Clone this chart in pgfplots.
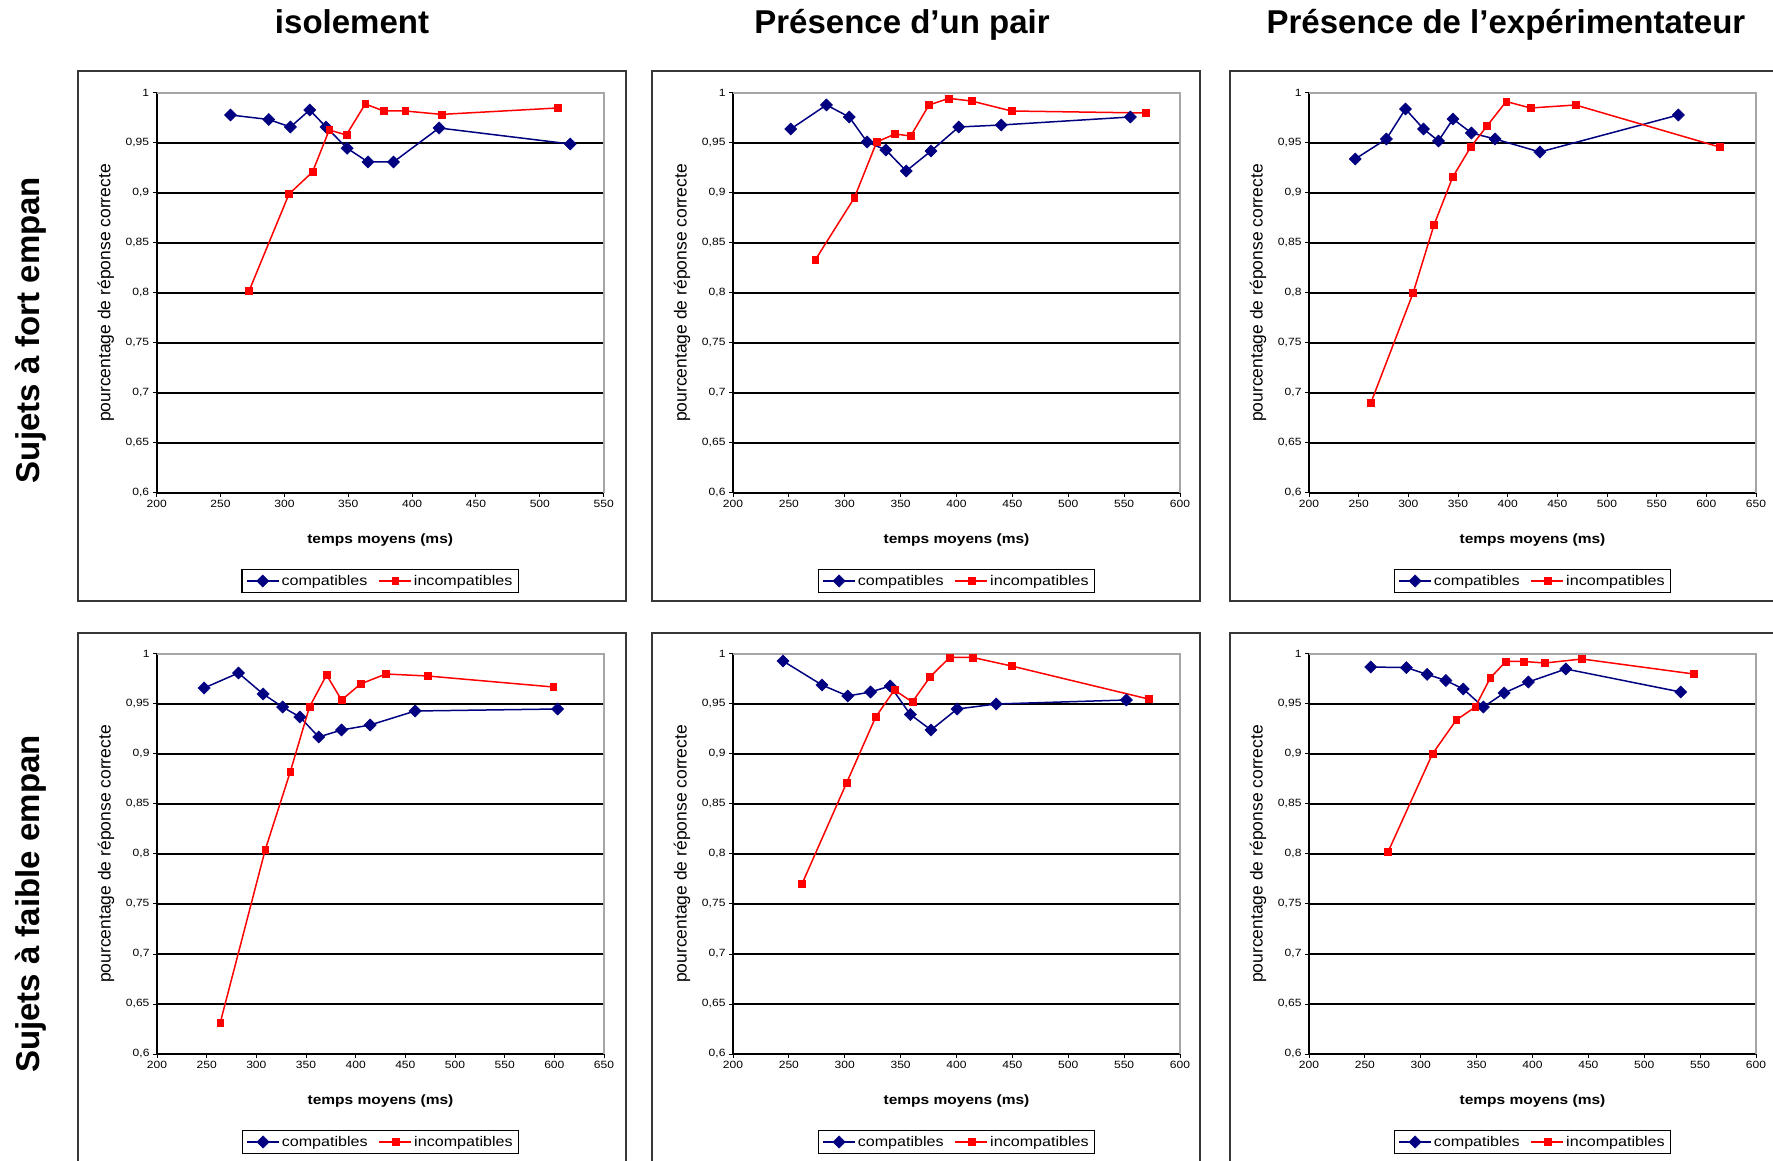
\documentclass[border=0pt]{standalone}
\usepackage{pgfplots}
\pgfplotsset{compat=1.18}
\usepackage{fontspec}
\setmainfont{Liberation Sans}
\newfontfamily\wide[FakeStretch=1.15]{Liberation Sans}
\definecolor{navy}{RGB}{0,0,128}
\definecolor{xred}{RGB}{255,0,0}
\definecolor{framegray}{RGB}{55,55,55}
\tikzset{plotborder/.style={gray!70, line width=2.2pt}}
\pgfplotsset{
  panel/.style={
    scale only axis, width=447pt, height=400pt,
    anchor=south west, clip=false,
    xmin=200, ymin=0.6, ymax=1,
    ytick={0.6,0.65,0.7,0.75,0.8,0.85,0.9,0.95,1},
    axis x line*=bottom, axis y line*=left,
    axis line style={black, line width=1.6pt},
    tick align=outside, major tick length=4pt,
    tick style={black, line width=1pt},
    ymajorgrids, major grid style={black, line width=2pt},
    /pgf/number format/use comma,
    /pgf/number format/fixed,
    /pgf/number format/precision=2,
    /pgf/number format/assume math mode=true,
    tick label style={font=\wide\fontsize{10.5}{12}\selectfont},
    xlabel={temps moyens (ms)},
    ylabel={pourcentage de réponse correcte},
    xlabel style={font=\wide\bfseries\fontsize{13.5}{15}\selectfont, at={(axis description cs:0.5,-0.1175)}, anchor=center},
    ylabel style={font=\fontsize{17.5}{19}\selectfont, at={(axis description cs:-0.114,0.5)}, anchor=center},
    legend columns=2,
    legend style={at={(axis description cs:0.5,-0.22)}, anchor=center, draw=black, line width=1.5pt,
      font=\wide\fontsize{14}{16}\selectfont, inner xsep=4pt, inner ysep=3.5pt,
      /tikz/every even column/.append style={column sep=9pt}},
    legend image code/.code={\draw[mark repeat=2,mark phase=2,##1] plot coordinates {(0pt,0pt) (16pt,0pt) (32pt,0pt)};},
  },
  cmpstyle/.style={color=navy, line width=1.5pt, mark=square*, mark size=4.3pt, mark options={solid, rotate=45, fill=navy, draw=navy, line width=0.5pt}},
  incstyle/.style={color=xred, line width=1.5pt, mark=square*, mark size=3.4pt, mark options={solid, fill=xred, draw=xred, line width=0.5pt}},
}
\begin{document}
\begin{tikzpicture}
\useasboundingbox (0pt,0pt) rectangle (1773pt,1160pt);
% frames
\draw[framegray, line width=1.8pt] (77.7pt,559pt) rectangle (626pt,1089pt);
\draw[framegray, line width=1.8pt] (652pt,559pt) rectangle (1200pt,1089pt);
\draw[framegray, line width=1.8pt] (1230pt,559pt) rectangle (1778pt,1089pt);
\draw[framegray, line width=1.8pt] (77.7pt,-5pt) rectangle (626pt,527pt);
\draw[framegray, line width=1.8pt] (652pt,-5pt) rectangle (1200pt,527pt);
\draw[framegray, line width=1.8pt] (1230pt,-5pt) rectangle (1778pt,527pt);
% titles
\node[font=\bfseries\fontsize{33}{36}\selectfont, anchor=base] at (352pt,1126pt) {isolement};
\node[font=\bfseries\fontsize{33}{36}\selectfont, anchor=base] at (902pt,1126pt) {Présence d’un pair};
\node[font=\bfseries\fontsize{33}{36}\selectfont, anchor=base] at (1506pt,1126pt) {Présence de l’expérimentateur};
\node[font=\bfseries\fontsize{33}{36}\selectfont, rotate=90] at (31pt,830pt) {Sujets à fort empan};
\node[font=\bfseries\fontsize{33}{36}\selectfont, rotate=90] at (31pt,256pt) {Sujets à faible empan};

% Panel 1
\begin{axis}[panel, at={(156.7pt,667pt)}, xmax=550, xtick={200,250,300,350,400,450,500,550}]
\draw[plotborder] (rel axis cs:0,1) -- (rel axis cs:1,1) -- (rel axis cs:1,0);
\addplot[cmpstyle] coordinates {(257.8,0.978) (287.7,0.9735) (304.7,0.966) (319.8,0.983) (332.6,0.966) (349.1,0.9447) (365.5,0.931) (385.4,0.931) (421.1,0.965) (523.8,0.949)};
\addplot[incstyle] coordinates {(272.3,0.802) (303.6,0.899) (322,0.921) (335.1,0.963) (348.5,0.958) (363.3,0.989) (377.8,0.982) (394.6,0.982) (423,0.9786) (513.8,0.985)};
\legend{compatibles, incompatibles}
\end{axis}

% Panel 2
\begin{axis}[panel, at={(733pt,667pt)}, xmax=600, xtick={200,250,300,350,400,450,500,550,600}]
\draw[plotborder] (rel axis cs:0,1) -- (rel axis cs:1,1) -- (rel axis cs:1,0);
\addplot[cmpstyle] coordinates {(251.7,0.964) (283.6,0.988) (304,0.976) (320,0.951) (336.8,0.943) (355,0.922) (377.2,0.942) (402,0.966) (440,0.968) (555.6,0.976)};
\addplot[incstyle] coordinates {(273.6,0.833) (308.5,0.895) (328.6,0.951) (345,0.959) (359,0.957) (375.4,0.988) (393,0.9946) (413.4,0.992) (449.2,0.982) (569.3,0.98)};
\legend{compatibles, incompatibles}
\end{axis}

% Panel 3
\begin{axis}[panel, at={(1309pt,667pt)}, xmax=650, xtick={200,250,300,350,400,450,500,550,600,650}]
\draw[plotborder] (rel axis cs:0,1) -- (rel axis cs:1,1) -- (rel axis cs:1,0);
\addplot[cmpstyle] coordinates {(246.5,0.934) (277.9,0.954) (297.1,0.984) (315.3,0.964) (330.3,0.952) (345,0.974) (363.5,0.960) (387.3,0.954) (432.4,0.941) (571.8,0.978)};
\addplot[incstyle] coordinates {(262.2,0.690) (304.8,0.800) (325.8,0.868) (344.7,0.916) (362.8,0.946) (379.2,0.967) (398.5,0.9915) (423,0.985) (468.3,0.988) (613.3,0.946)};
\legend{compatibles, incompatibles}
\end{axis}

% Panel 4
\begin{axis}[panel, at={(157pt,106pt)}, xmax=650, xtick={200,250,300,350,400,450,500,550,600,650}]
\draw[plotborder] (rel axis cs:0,1) -- (rel axis cs:1,1) -- (rel axis cs:1,0);
\addplot[cmpstyle] coordinates {(247.4,0.966) (282,0.981) (306.8,0.960) (326.5,0.947) (343.8,0.937) (362.8,0.917) (385.8,0.924) (414.6,0.929) (459.9,0.943) (603.3,0.945)};
\addplot[incstyle] coordinates {(263.6,0.631) (308.9,0.804) (334.1,0.882) (353.5,0.947) (370.7,0.979) (385.8,0.954) (404.9,0.970) (430.4,0.980) (472.5,0.978) (599,0.967)};
\legend{compatibles, incompatibles}
\end{axis}

% Panel 5
\begin{axis}[panel, at={(733pt,106pt)}, xmax=600, xtick={200,250,300,350,400,450,500,550,600}]
\draw[plotborder] (rel axis cs:0,1) -- (rel axis cs:1,1) -- (rel axis cs:1,0);
\addplot[cmpstyle] coordinates {(244.7,0.993) (279.6,0.969) (302.7,0.958) (323.1,0.962) (340.7,0.968) (358.7,0.9395) (377.2,0.924) (400.6,0.945) (435.6,0.950) (552,0.954)};
\addplot[incstyle] coordinates {(261.7,0.770) (301.8,0.8715) (327.7,0.937) (344.4,0.964) (360.5,0.952) (376.3,0.977) (393.9,0.9966) (414.3,0.9966) (449.2,0.988) (571.7,0.955)};
\legend{compatibles, incompatibles}
\end{axis}

% Panel 6
\begin{axis}[panel, at={(1309pt,106pt)}, xmax=600, xtick={200,250,300,350,400,450,500,550,600}]
\draw[plotborder] (rel axis cs:0,1) -- (rel axis cs:1,1) -- (rel axis cs:1,0);
\addplot[cmpstyle] coordinates {(255.2,0.987) (287.1,0.9864) (305.7,0.9796) (322.5,0.9735) (338,0.965) (356,0.947) (374.6,0.961) (396.3,0.972) (429.8,0.985) (532.7,0.962)};
\addplot[incstyle] coordinates {(270.7,0.802) (310.4,0.900) (331.8,0.934) (348.8,0.947) (362.2,0.976) (376.1,0.9925) (392.2,0.9925) (411.2,0.991) (444.3,0.995) (544.2,0.980)};
\legend{compatibles, incompatibles}
\end{axis}
\end{tikzpicture}
\end{document}
